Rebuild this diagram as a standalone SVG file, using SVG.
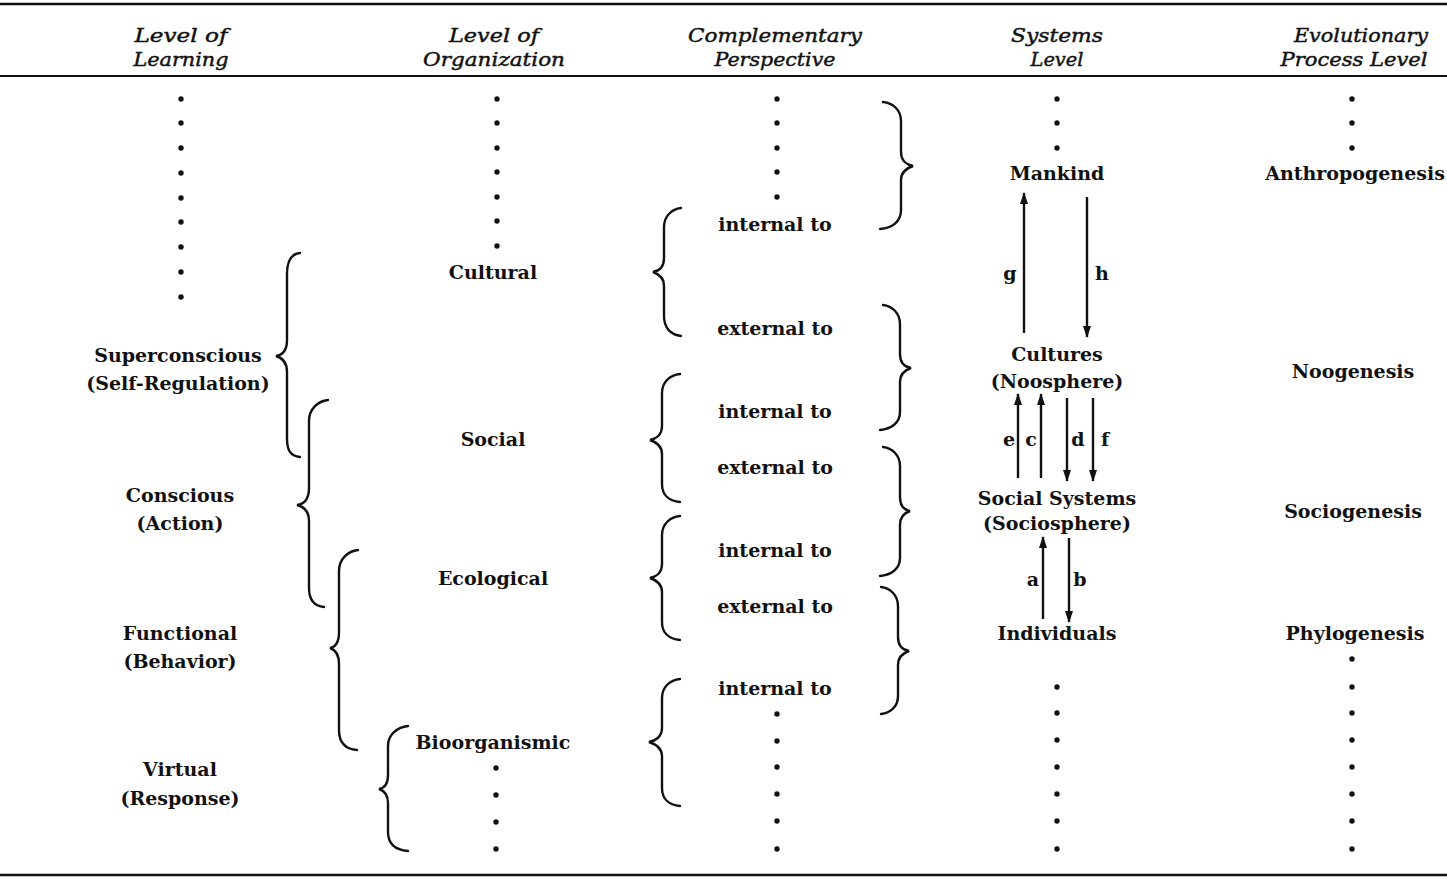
<svg xmlns="http://www.w3.org/2000/svg" width="1447" height="879" viewBox="0 0 1447 879">
<style>
.hd{font-family:"DejaVu Serif","Liberation Serif",serif;font-style:italic;font-size:19px;fill:#111;stroke:#111;stroke-width:0.45;text-anchor:middle}
.t{font-family:"DejaVu Serif","Liberation Serif",serif;font-weight:bold;font-size:19px;fill:#111;text-anchor:middle}
.br{fill:none;stroke:#111;stroke-width:2.4;stroke-linecap:round}
.ar{fill:none;stroke:#111;stroke-width:2.4}
.rule{stroke:#111;fill:none}
.d{fill:#111}
</style>
<defs>
<marker id="ah" viewBox="0 0 12 8" refX="11" refY="4" markerWidth="12" markerHeight="8" markerUnits="userSpaceOnUse" orient="auto">
<path d="M0,0 L12,4 L0,8 Z" fill="#111"/>
</marker>
<circle id="dot" r="2.7" class="d"/>
</defs>
<rect width="1447" height="879" fill="#fff"/>
<g id="rules">
<line class="rule" x1="0" y1="4" x2="1447" y2="4" stroke-width="2.5"/>
<line class="rule" x1="0" y1="76" x2="1447" y2="76" stroke-width="1.8"/>
<line class="rule" x1="0" y1="875" x2="1447" y2="875" stroke-width="2.5"/>
</g>
<g id="headers">
<text class="hd" x="181" y="42" textLength="93" lengthAdjust="spacingAndGlyphs">Level of</text>
<text class="hd" x="181" y="66" textLength="95" lengthAdjust="spacingAndGlyphs">Learning</text>
<text class="hd" x="494" y="42" textLength="90" lengthAdjust="spacingAndGlyphs">Level of</text>
<text class="hd" x="494" y="66" textLength="142" lengthAdjust="spacingAndGlyphs">Organization</text>
<text class="hd" x="775" y="42" textLength="174" lengthAdjust="spacingAndGlyphs">Complementary</text>
<text class="hd" x="775" y="66" textLength="121" lengthAdjust="spacingAndGlyphs">Perspective</text>
<text class="hd" x="1057" y="42" textLength="92" lengthAdjust="spacingAndGlyphs">Systems</text>
<text class="hd" x="1057" y="66" textLength="53" lengthAdjust="spacingAndGlyphs">Level</text>
<text class="hd" x="1361" y="42" textLength="134" lengthAdjust="spacingAndGlyphs">Evolutionary</text>
<text class="hd" x="1354" y="66" textLength="147" lengthAdjust="spacingAndGlyphs">Process Level</text>
</g>
<g id="learning">
<g id="dots-learning">
<use href="#dot" x="181" y="99"/><use href="#dot" x="181" y="123"/><use href="#dot" x="181" y="148"/><use href="#dot" x="181" y="173"/><use href="#dot" x="181" y="198"/><use href="#dot" x="181" y="222"/><use href="#dot" x="181" y="247"/><use href="#dot" x="181" y="272"/><use href="#dot" x="181" y="297"/>
</g>
<g id="superconscious"><text class="t" x="178" y="362">Superconscious</text><text class="t" x="178" y="390">(Self-Regulation)</text></g>
<g id="conscious"><text class="t" x="180" y="502">Conscious</text><text class="t" x="180" y="530">(Action)</text></g>
<g id="functional"><text class="t" x="180" y="640">Functional</text><text class="t" x="180" y="668">(Behavior)</text></g>
<g id="virtual"><text class="t" x="180" y="776">Virtual</text><text class="t" x="180" y="805">(Response)</text></g>
</g>
<g id="organization">
<g id="dots-org-top">
<use href="#dot" x="497" y="99"/><use href="#dot" x="497" y="123"/><use href="#dot" x="497" y="148"/><use href="#dot" x="497" y="172"/><use href="#dot" x="497" y="197"/><use href="#dot" x="497" y="221"/><use href="#dot" x="497" y="246"/>
</g>
<g id="cultural"><text class="t" x="493" y="279">Cultural</text></g>
<g id="social"><text class="t" x="493" y="446">Social</text></g>
<g id="ecological"><text class="t" x="493" y="585">Ecological</text></g>
<g id="bioorganismic"><text class="t" x="493" y="749">Bioorganismic</text></g>
<g id="dots-org-bottom">
<use href="#dot" x="496" y="768"/><use href="#dot" x="496" y="795"/><use href="#dot" x="496" y="822"/><use href="#dot" x="496" y="849"/>
</g>
</g>
<g id="perspective">
<g id="dots-persp-top">
<use href="#dot" x="777" y="99"/><use href="#dot" x="777" y="123"/><use href="#dot" x="777" y="148"/><use href="#dot" x="777" y="172"/><use href="#dot" x="777" y="197"/>
</g>
<g id="p1"><text class="t" x="775" y="231">internal to</text></g>
<g id="p2"><text class="t" x="775" y="335">external to</text></g>
<g id="p3"><text class="t" x="775" y="418">internal to</text></g>
<g id="p4"><text class="t" x="775" y="474">external to</text></g>
<g id="p5"><text class="t" x="775" y="557">internal to</text></g>
<g id="p6"><text class="t" x="775" y="613">external to</text></g>
<g id="p7"><text class="t" x="775" y="695">internal to</text></g>
<g id="dots-persp-bottom">
<use href="#dot" x="777" y="714"/><use href="#dot" x="777" y="741"/><use href="#dot" x="777" y="767"/><use href="#dot" x="777" y="794"/><use href="#dot" x="777" y="821"/><use href="#dot" x="777" y="849"/>
</g>
</g>
<g id="systems">
<g id="dots-sys-top"><use href="#dot" x="1057" y="99"/><use href="#dot" x="1057" y="123"/><use href="#dot" x="1057" y="148"/></g>
<g id="mankind"><text class="t" x="1057" y="180">Mankind</text></g>
<g id="cultures"><text class="t" x="1057" y="361">Cultures</text><text class="t" x="1057" y="388">(Noosphere)</text></g>
<g id="socialsystems"><text class="t" x="1057" y="505">Social Systems</text><text class="t" x="1057" y="530">(Sociosphere)</text></g>
<g id="individuals"><text class="t" x="1057" y="640">Individuals</text></g>
<g id="dots-sys-bottom">
<use href="#dot" x="1057" y="687"/><use href="#dot" x="1057" y="713"/><use href="#dot" x="1057" y="740"/><use href="#dot" x="1057" y="767"/><use href="#dot" x="1057" y="794"/><use href="#dot" x="1057" y="821"/><use href="#dot" x="1057" y="849"/>
</g>
</g>
<g id="evolution">
<g id="dots-evo-top"><use href="#dot" x="1352" y="99"/><use href="#dot" x="1352" y="123"/><use href="#dot" x="1352" y="148"/></g>
<g id="anthropogenesis"><text class="t" x="1355" y="180">Anthropogenesis</text></g>
<g id="noogenesis"><text class="t" x="1353" y="378">Noogenesis</text></g>
<g id="sociogenesis"><text class="t" x="1353" y="518">Sociogenesis</text></g>
<g id="phylogenesis"><text class="t" x="1355" y="640">Phylogenesis</text></g>
<g id="dots-evo-bottom">
<use href="#dot" x="1352" y="659"/><use href="#dot" x="1352" y="687"/><use href="#dot" x="1352" y="713"/><use href="#dot" x="1352" y="740"/><use href="#dot" x="1352" y="767"/><use href="#dot" x="1352" y="794"/><use href="#dot" x="1352" y="821"/><use href="#dot" x="1352" y="849"/>
</g>
</g>
<g id="braces">
<path class="br" d="M300,253 C290,254 287,262 287,274 L287,340 C287,350 283,355 276,356 C283,358 287,363 287,372 L287,438 C287,450 290,456 300,457"/>
<path class="br" d="M328,400 C318,401 309,409 309,421 L309,488 C309,498 305,504 297,505 C305,507 309,512 309,521 L309,588 C309,600 314,606 324,607"/>
<path class="br" d="M358,550 C348,551 339,559 339,571 L339,632 C339,642 336,647 330,648 C336,650 339,655 339,664 L339,730 C339,742 344,749 357,750"/>
<path class="br" d="M408,726 C398,727 388,734 388,746 L388,775 C388,784 385,788 379,789 C385,791 388,795 388,803 L388,832 C388,844 396,850 408,851"/>
<path class="br" d="M681,208 C672,209 664,216 664,227 L664,258 C664,267 659,271 653,272 C659,274 664,278 664,286 L664,316 C664,328 671,335 681,336"/>
<path class="br" d="M680,374 C670,375 662,382 662,393 L662,426 C662,435 656,439 650,440 C656,442 662,446 662,454 L662,484 C662,495 669,501 680,502"/>
<path class="br" d="M680,516 C670,517 662,524 662,535 L662,564 C662,573 656,577 650,578 C656,580 662,584 662,592 L662,622 C662,633 669,639 680,640"/>
<path class="br" d="M680,679 C670,680 662,687 662,698 L662,728 C662,737 655,741 649,742 C655,744 662,748 662,756 L662,788 C662,799 669,805 680,806"/>
<path class="br" d="M883,102 C893,103 901,110 901,121 L901,152 C901,161 907,165 913,166 C907,168 901,172 901,180 L901,210 C901,222 892,228 880,229"/>
<path class="br" d="M883,305 C892,306 900,313 900,324 L900,354 C900,363 905,367 911,368 C905,370 900,374 900,382 L900,412 C900,423 891,429 880,430"/>
<path class="br" d="M883,447 C892,448 900,455 900,466 L900,497 C900,506 904,510 910,511 C904,513 900,517 900,525 L900,558 C900,569 891,575 880,576"/>
<path class="br" d="M881,587 C890,588 898,595 898,606 L898,637 C898,646 903,650 909,651 C903,653 898,657 898,665 L898,696 C898,707 890,713 881,714"/>
</g>
<g id="connectors">
<line class="ar" x1="1024" y1="333" x2="1024" y2="193" marker-end="url(#ah)"/>
<line class="ar" x1="1087" y1="197" x2="1087" y2="337" marker-end="url(#ah)"/>
<line class="ar" x1="1018" y1="478" x2="1018" y2="394" marker-end="url(#ah)"/>
<line class="ar" x1="1041" y1="478" x2="1041" y2="394" marker-end="url(#ah)"/>
<line class="ar" x1="1067" y1="398" x2="1067" y2="481" marker-end="url(#ah)"/>
<line class="ar" x1="1093" y1="398" x2="1093" y2="481" marker-end="url(#ah)"/>
<line class="ar" x1="1043" y1="619" x2="1043" y2="537" marker-end="url(#ah)"/>
<line class="ar" x1="1069" y1="538" x2="1069" y2="622" marker-end="url(#ah)"/>
<text class="t" x="1010" y="280">g</text>
<text class="t" x="1102" y="280">h</text>
<text class="t" x="1009" y="446">e</text>
<text class="t" x="1031" y="446">c</text>
<text class="t" x="1078" y="446">d</text>
<text class="t" x="1105" y="446">f</text>
<text class="t" x="1033" y="586">a</text>
<text class="t" x="1080" y="586">b</text>
</g>
</svg>
